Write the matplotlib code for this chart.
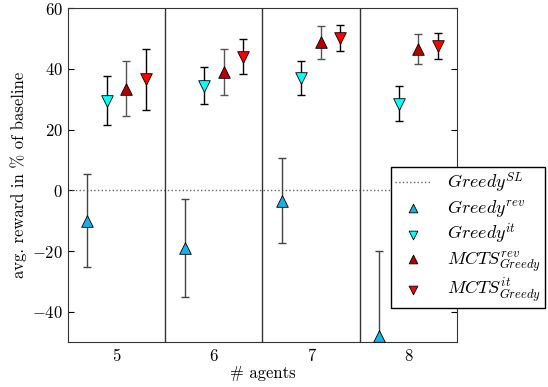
import matplotlib
matplotlib.use("Agg")
import matplotlib.pyplot as plt
import numpy as np

plt.rcParams['font.family'] = 'serif'
plt.rcParams['font.serif'] = ['cmr10', 'DejaVu Serif']
plt.rcParams['mathtext.fontset'] = 'cm'
plt.rcParams['axes.formatter.use_mathtext'] = True

agents = [5, 6, 7, 8]
greedy_rev = [-10, -19, -3.5, -48]
greedy_rev_err = [15.3, 16, 14, 28]
greedy_it = [29.5, 34.5, 37, 28.5]
greedy_it_err = [8, 6.2, 5.7, 5.8]
mcts_rev = [33.5, 39, 48.7, 46.5]
mcts_rev_err = [9, 7.7, 5.5, 5]
mcts_it = [36.5, 44, 50.3, 47.5]
mcts_it_err = [10, 5.8, 4.3, 4.2]

fig = plt.figure(figsize=(5.48, 3.87), dpi=100)
ax = fig.add_axes([0.124, 0.116, 0.710, 0.863])

x = np.array(agents, dtype=float)
series = [
    (greedy_rev, greedy_rev_err, -0.3, '^', '#1AAFE6', '#444444', r'$Greedy^{rev}$'),
    (greedy_it, greedy_it_err, -0.1, 'v', '#00FFFF', 'black', r'$Greedy^{it}$'),
    (mcts_rev, mcts_rev_err, 0.1, '^', '#B80000', '#555555', r'$MCTS^{rev}_{Greedy}$'),
    (mcts_it, mcts_it_err, 0.3, 'v', '#FF0000', 'black', r'$MCTS^{it}_{Greedy}$'),
]

base = ax.axhline(0, color='#666666', linestyle=':', linewidth=1.0, label=r'$Greedy^{SL}$')
handles = [base]
for vals, errs, off, mk, col, ecol, lab in series:
    ax.errorbar(x + off, vals, yerr=errs, fmt='none', ecolor=ecol, elinewidth=1.0,
                capsize=3, capthick=1.0, zorder=2)
    h = ax.scatter(x + off, vals, marker=mk, s=70, color=col, edgecolors='black',
                   linewidths=0.6, zorder=3, label=lab, clip_on=False)
    handles.append(h)

for d in [5.5, 6.5, 7.5]:
    ax.axvline(d, color='#333333', linewidth=1.0)

ax.set_xlim(4.5, 8.5)
ax.set_ylim(-50, 60)
ax.set_xticks(agents)
ax.set_xticklabels([str(a) for a in agents])
ax.set_yticks([-40, -20, 0, 20, 40, 60])
ax.tick_params(axis='x', length=0, labelsize=12, pad=5)
ax.tick_params(axis='y', direction='in', right=True, labelsize=12, length=4)
for s in ax.spines.values():
    s.set_color('#333333')
ax.set_xlabel('# agents', fontsize=12, labelpad=1)
ax.set_ylabel('avg. reward in % of baseline', fontsize=12)

leg = fig.legend(handles=handles, loc='upper right', bbox_to_anchor=(0.995, 0.568),
                 fontsize=13, frameon=True, fancybox=False, edgecolor='black',
                 framealpha=1, handlelength=2.0, borderpad=0.2, labelspacing=0.15,
                 handletextpad=0.9, borderaxespad=0, markerscale=0.75)
leg.get_frame().set_linewidth(1.0)

fig.savefig('out.png', dpi=100)
